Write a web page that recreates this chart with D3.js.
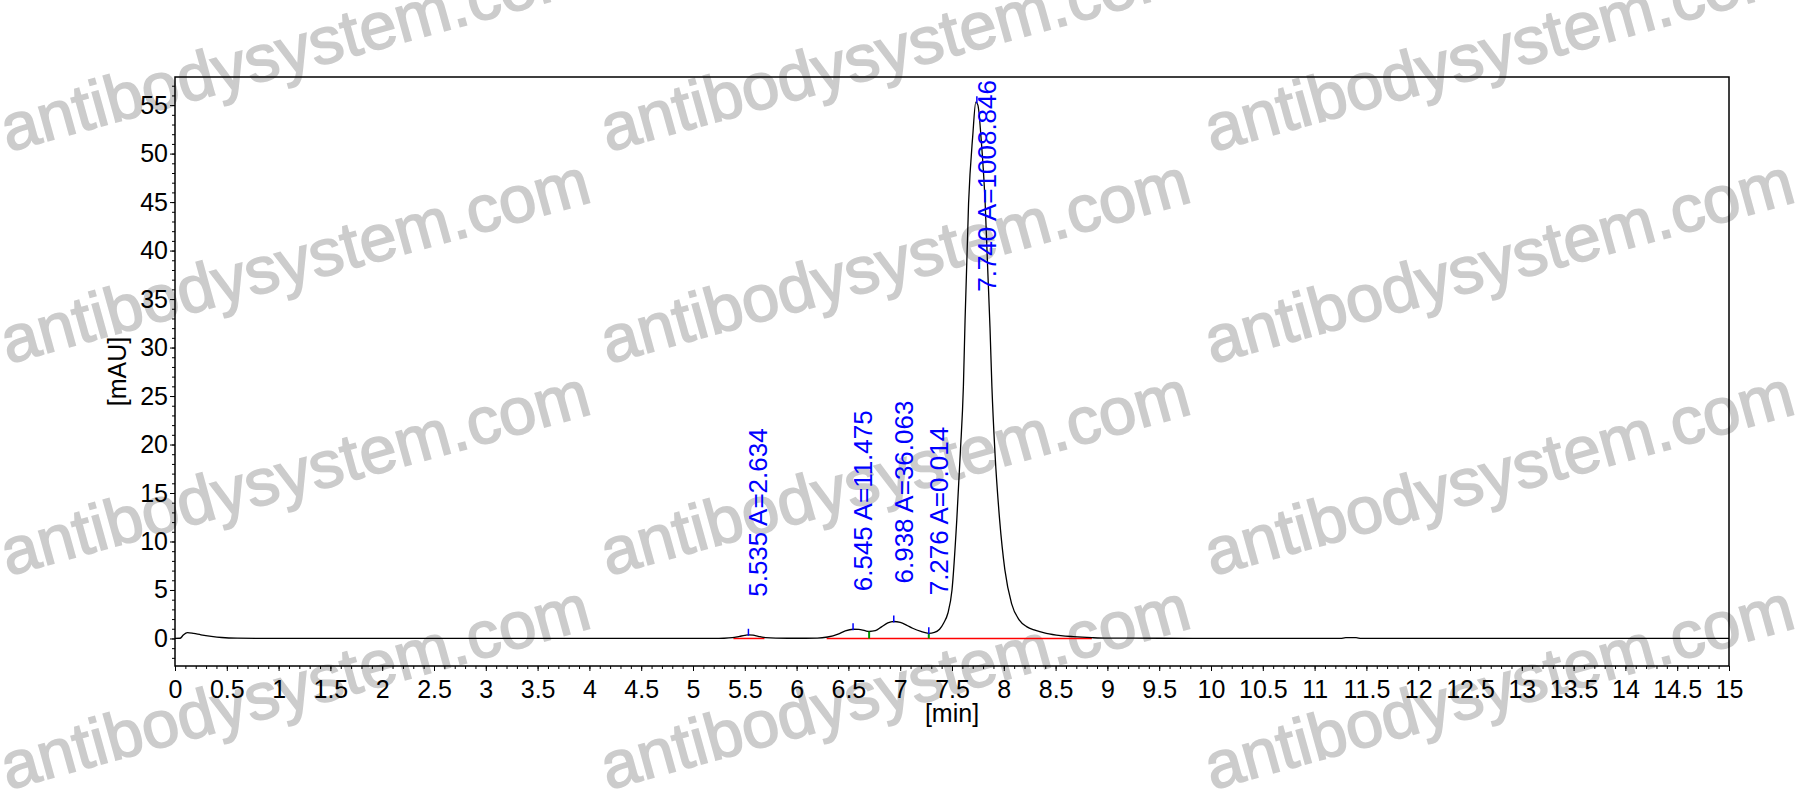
<!DOCTYPE html>
<html>
<head>
<meta charset="utf-8">
<script src="https://cdn.jsdelivr.net/npm/d3@7"></script>
<style>
  body { margin: 0; background: #fff; }
  svg { display: block; }
</style>
</head>
<body>
<div id="chart"></div>
<script>
// chromatogram trace (time in min, signal in mAU)
const times = [0, 0.05, 0.08, 0.12, 0.18, 0.25, 0.35, 0.45, 0.6, 1.0, 3.0, 5.0, 5.2, 5.3,
  5.38, 5.45, 5.5, 5.535, 5.58, 5.63, 5.7, 5.8, 6.0, 6.2, 6.3, 6.4, 6.47, 6.545, 6.6,
  6.66, 6.7, 6.76, 6.82, 6.88, 6.938, 7.0, 7.06, 7.12, 7.2, 7.276, 7.33, 7.38, 7.42,
  7.46, 7.5, 7.546, 7.58, 7.61, 7.626, 7.66, 7.70, 7.73, 7.75, 7.78, 7.82, 7.845,
  7.867, 7.885, 7.915, 7.96, 8.01, 8.075, 8.15, 8.22, 8.3, 8.41, 8.55, 8.67, 8.85,
  9.0, 9.5, 10.0, 11.25, 11.3, 11.4, 11.45, 13.0, 15.0];
const signal = [0, 0.02, 0.35, 0.6, 0.52, 0.38, 0.22, 0.1, 0.03, 0.0, 0.0, 0.0, 0.0, 0.02,
  0.08, 0.22, 0.32, 0.38, 0.34, 0.22, 0.08, 0.03, 0.02, 0.03, 0.15, 0.45, 0.78, 0.95, 0.93,
  0.8, 0.72, 0.8, 1.2, 1.6, 1.75, 1.65, 1.38, 1.05, 0.72, 0.53, 0.62, 0.95, 1.6,
  2.6, 5.0, 12.2, 19.1, 26.0, 32.8, 44.9, 51.8, 55.3, 55.0, 51.7, 44.9, 38.0,
  32.0, 26.0, 19.1, 12.2, 7.1, 3.6, 1.9, 1.22, 0.85, 0.53, 0.3, 0.19, 0.08,
  0.03, 0.02, 0.0, 0.0, 0.09, 0.09, 0.0, 0.0, 0.0];

// integrated peaks
const peakTimes = [5.535, 6.545, 6.938, 7.276, 7.740];
const peakHeights = [0.38, 0.95, 1.75, 0.53, 55.3];
const peakAreas = ["2.634", "11.475", "36.063", "0.014", "1008.846"];
const splitTimes = [6.7, 7.276];
const splitHeights = [0.72, 0.53];
const baselineStart = [5.39, 6.29];
const baselineEnd = [5.69, 8.85];

const xTickValues = [0, 0.5, 1, 1.5, 2, 2.5, 3, 3.5, 4, 4.5, 5, 5.5, 6, 6.5, 7, 7.5, 8,
  8.5, 9, 9.5, 10, 10.5, 11, 11.5, 12, 12.5, 13, 13.5, 14, 14.5, 15];
const yTickValues = [0, 5, 10, 15, 20, 25, 30, 35, 40, 45, 50, 55];

const width = 1812;
const height = 805;
const marginLeft = 175;
const marginRight = 83;
const marginTop = 77;
const marginBottom = 139;
const font = "'Liberation Sans', Arial, sans-serif";

const svg = d3.select("#chart")
    .append("svg")
    .attr("width", width)
    .attr("height", height);

// watermark underneath everything
const markCols = [8, 608, 1212];
const markRows = [152, 364, 576, 790];
const marks = svg.append("g");
markRows.forEach(r => {
    markCols.forEach(c => {
        marks.append("text")
            .attr("transform", `translate(${c},${r}) rotate(-15.5)`)
            .attr("font-family", font)
            .attr("font-size", 66)
            .attr("fill", "#cccccc")
            .attr("stroke", "#cccccc")
            .attr("stroke-width", 1.6)
            .attr("textLength", 608)
            .attr("lengthAdjust", "spacingAndGlyphs")
            .text("antibodysystem.com");
    });
});

const x = d3.scaleLinear()
    .domain([0, 15])
    .range([marginLeft, width - marginRight]);

const y = d3.scaleLinear()
    .domain([-2.84, 57.9])
    .range([height - marginBottom, marginTop]);

// minor ticks
svg.append("g")
    .attr("transform", `translate(0,${height - marginBottom})`)
    .call(d3.axisBottom(x).tickValues(d3.range(0, 150.5, 1).map(d => d / 10)).tickSize(3).tickFormat(""))
    .call(g => g.select(".domain").remove());
svg.append("g")
    .attr("transform", `translate(${marginLeft},0)`)
    .call(d3.axisLeft(y).tickValues(d3.range(-2, 58, 1)).tickSize(3).tickFormat(""))
    .call(g => g.select(".domain").remove());

// major ticks + labels
svg.append("g")
    .attr("transform", `translate(0,${height - marginBottom})`)
    .call(d3.axisBottom(x).tickValues(xTickValues).tickSize(5).tickPadding(9).tickFormat(d3.format("")))
    .call(g => g.select(".domain").remove())
    .call(g => g.selectAll("text").attr("font-size", 25).attr("font-family", font).attr("fill", "#000"));

svg.append("g")
    .attr("transform", `translate(${marginLeft},0)`)
    .call(d3.axisLeft(y).tickValues(yTickValues).tickSize(5).tickPadding(2).tickFormat(d3.format("")))
    .call(g => g.select(".domain").remove())
    .call(g => g.selectAll("text").attr("font-size", 25).attr("font-family", font).attr("fill", "#000"));

svg.selectAll(".tick line").attr("stroke", "#000");

// axis titles
svg.append("text")
    .attr("x", (marginLeft + width - marginRight) / 2)
    .attr("y", 722)
    .attr("text-anchor", "middle")
    .attr("font-family", font)
    .attr("font-size", 25)
    .text("[min]");

svg.append("text")
    .attr("transform", `translate(126,${(marginTop + height - marginBottom) / 2}) rotate(-90)`)
    .attr("text-anchor", "middle")
    .attr("font-family", font)
    .attr("font-size", 25)
    .text("[mAU]");

// red integration baselines
svg.append("g")
    .selectAll("line")
    .data(baselineStart)
    .join("line")
    .attr("x1", d => x(d))
    .attr("x2", (d, i) => x(baselineEnd[i]))
    .attr("y1", y(0))
    .attr("y2", y(0))
    .attr("stroke", "#ff0000")
    .attr("stroke-width", 1.5);

// the trace
const line = d3.line()
    .x(d => x(d[0]))
    .y(d => y(d[1]))
    .curve(d3.curveMonotoneX);

svg.append("path")
    .datum(times.map((t, i) => [t, signal[i]]))
    .attr("d", line)
    .attr("fill", "none")
    .attr("stroke", "#000")
    .attr("stroke-width", 1.3);

// peak split markers (green)
svg.append("g")
    .selectAll("line")
    .data(splitTimes)
    .join("line")
    .attr("x1", d => x(d))
    .attr("x2", d => x(d))
    .attr("y1", (d, i) => y(splitHeights[i]))
    .attr("y2", y(0))
    .attr("stroke", "#009900")
    .attr("stroke-width", 2);

// apex markers (blue)
svg.append("g")
    .selectAll("line")
    .data(peakTimes)
    .join("line")
    .attr("x1", d => x(d))
    .attr("x2", d => x(d))
    .attr("y1", (d, i) => y(peakHeights[i]) - 6)
    .attr("y2", (d, i) => y(peakHeights[i]) + 1)
    .attr("stroke", "#0000ff")
    .attr("stroke-width", 1.5);

// peak labels, rotated; pushed down when they would leave the frame
const labelSize = 26;
svg.append("g")
    .selectAll("text")
    .data(peakTimes)
    .join("text")
    .attr("font-family", font)
    .attr("font-size", labelSize)
    .attr("fill", "#0000ff")
    .attr("dy", "0.72em")
    .text((d, i) => `${d.toFixed(3)} A=${peakAreas[i]}`)
    .each(function(d, i) {
        const len = this.getComputedTextLength();
        let start = y(peakHeights[i]) - 38;
        if (start - len < marginTop + 3) start = marginTop + 3 + len;
        d3.select(this).attr("transform", `translate(${x(d)},${start}) rotate(-90)`);
    });

// frame
svg.append("rect")
    .attr("x", marginLeft)
    .attr("y", marginTop)
    .attr("width", width - marginLeft - marginRight)
    .attr("height", height - marginTop - marginBottom)
    .attr("fill", "none")
    .attr("stroke", "#000")
    .attr("stroke-width", 1.5);
</script>
</body>
</html>
